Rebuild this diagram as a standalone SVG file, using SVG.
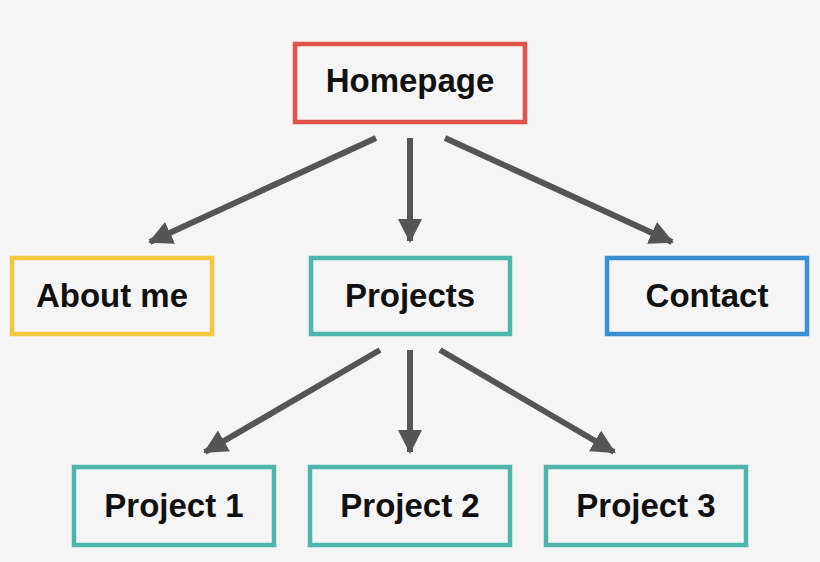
<svg xmlns="http://www.w3.org/2000/svg" width="820" height="562" viewBox="0 0 820 562">
<style>
.b{fill:#f5f5f5;stroke-width:4.5}
.t{font-family:"Liberation Sans",Arial,sans-serif;font-weight:bold;font-size:33px;fill:#111;text-anchor:middle;dominant-baseline:central}
.c{stroke:#555;stroke-width:6;fill:none;marker-end:url(#a)}
</style>
<defs><marker id="a" markerUnits="userSpaceOnUse" markerWidth="28" markerHeight="26" refX="22" refY="12" orient="auto"><path d="M0,0 L24,12 L0,24 Z" fill="#555"/></marker></defs>
<rect width="820" height="562" fill="#f5f5f5"/>
<g id="connectors">
<line class="c" x1="376" y1="138" x2="150" y2="242"/>
<line class="c" x1="410" y1="138" x2="410" y2="241"/>
<line class="c" x1="445" y1="138" x2="672" y2="242"/>
<line class="c" x1="380" y1="350" x2="205" y2="452"/>
<line class="c" x1="410" y1="350" x2="410" y2="452"/>
<line class="c" x1="440" y1="350" x2="614" y2="452"/>
</g>
<g id="homepage"><rect class="b" x="295" y="44" width="230" height="78" stroke="#e0524a"/><text class="t" x="410" y="80">Homepage</text></g>
<g id="about"><rect class="b" x="12" y="258" width="200" height="76" stroke="#f5c842"/><text class="t" x="112" y="295">About me</text></g>
<g id="projects"><rect class="b" x="311" y="258" width="199" height="76" stroke="#4db6a8"/><text class="t" x="410" y="295">Projects</text></g>
<g id="contact"><rect class="b" x="607" y="258" width="200" height="76" stroke="#3a8fd0"/><text class="t" x="707" y="295">Contact</text></g>
<g id="p1"><rect class="b" x="74" y="467" width="200" height="78" stroke="#4db6a8"/><text class="t" x="174" y="505">Project 1</text></g>
<g id="p2"><rect class="b" x="310" y="467" width="200" height="78" stroke="#4db6a8"/><text class="t" x="410" y="505">Project 2</text></g>
<g id="p3"><rect class="b" x="546" y="467" width="200" height="78" stroke="#4db6a8"/><text class="t" x="646" y="505">Project 3</text></g>
</svg>
